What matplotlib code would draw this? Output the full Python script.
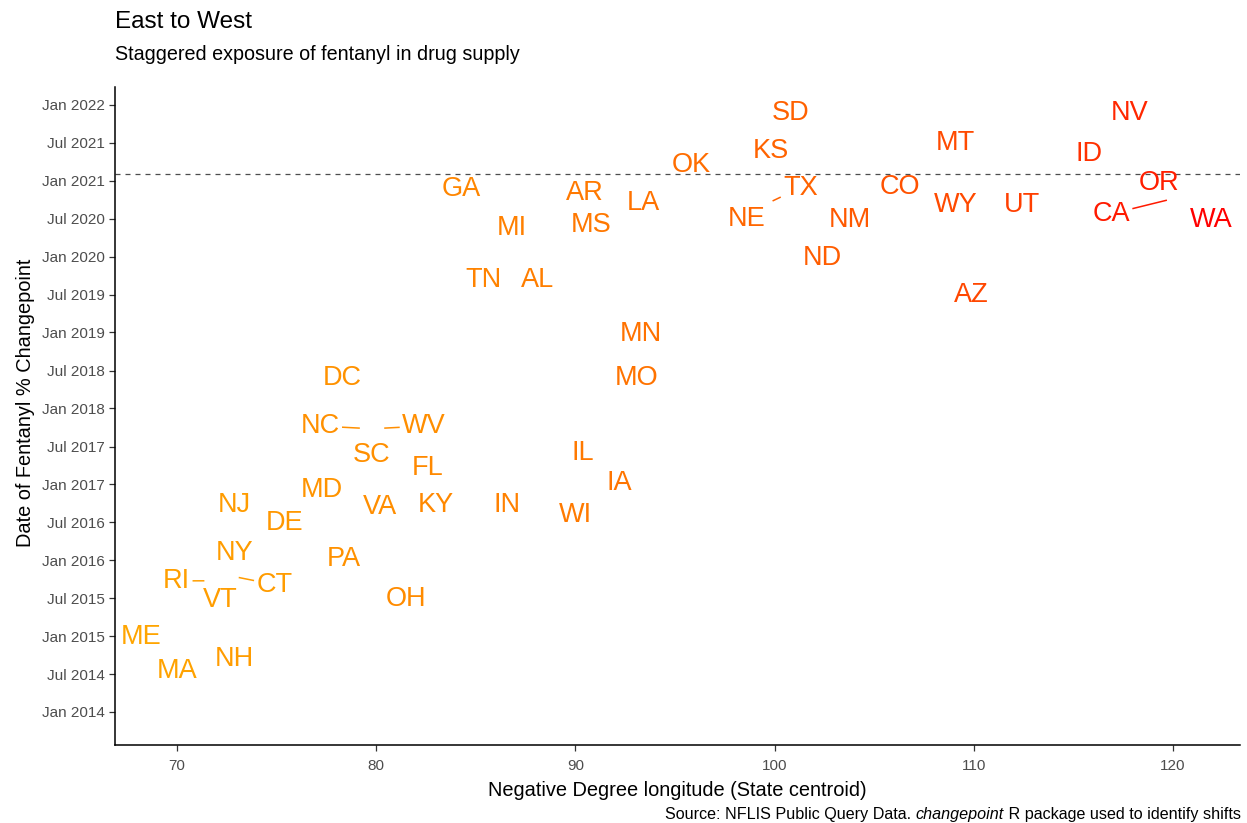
import numpy as np
import matplotlib
matplotlib.use("Agg")
import matplotlib.pyplot as plt
import matplotlib.dates as mdates
from datetime import datetime

plt.rcParams['font.family'] = ['Liberation Sans', 'DejaVu Sans']

# ---- data ----
states = ["ME", "MA", "NH", "RI", "VT", "CT", "NY", "NJ", "DE", "PA", "OH", "MD",
          "VA", "KY", "SC", "FL", "NC", "WV", "DC", "IN", "WI", "IL", "IA", "MO",
          "MN", "TN", "AL", "MI", "GA", "AR", "MS", "LA", "OK", "KS", "SD", "TX",
          "NE", "NM", "ND", "CO", "MT", "WY", "AZ", "UT", "ID", "NV", "OR", "CA", "WA"]
longitude = [68.2, 70.0, 72.9, 71.5, 72.2, 73.0, 72.9, 72.9, 75.4, 78.4, 81.5, 77.3,
             80.2, 83.0, 79.8, 82.6, 79.3, 80.3, 78.3, 86.6, 90.0, 90.4, 92.2, 93.1,
             93.3, 85.4, 88.1, 86.8, 84.3, 90.5, 90.8, 93.4, 95.8, 99.8, 100.8, 99.8,
             98.6, 103.8, 102.4, 106.3, 109.1, 109.1, 109.9, 112.4, 115.8, 117.8, 119.3, 119.8, 121.9]
changepoint = ["2015-01-12", "2014-07-31", "2014-09-27", "2015-09-24", "2015-07-09",
               "2015-10-12", "2016-02-21", "2016-10-05", "2016-07-13", "2016-01-23",
               "2015-07-13", "2016-12-20", "2016-09-27", "2016-10-08", "2017-06-03",
               "2017-04-05", "2017-09-27", "2017-09-27", "2018-06-10", "2016-10-08",
               "2016-08-22", "2017-06-14", "2017-01-23", "2018-06-10", "2019-01-08",
               "2019-09-24", "2019-09-24", "2020-05-30", "2020-12-05", "2020-11-17",
               "2020-06-14", "2020-09-27", "2021-03-29", "2021-06-06", "2021-12-05",
               "2020-09-20", "2020-07-16", "2020-07-09", "2020-01-08", "2020-12-16",
               "2021-07-13", "2020-09-20", "2019-07-16", "2020-09-20", "2021-05-23",
               "2021-12-05", "2021-01-05", "2020-10-01", "2020-07-09"]
# labels moved away from their points (repelled labels)
repel_states = ["RI", "CT", "NC", "WV", "TX", "CA"]
repel_lon = [70.0, 74.9, 77.2, 82.4, 101.3, 116.9]
repel_date = ["2015-10-08", "2015-09-20", "2017-10-22", "2017-10-22", "2020-12-12", "2020-08-08"]

threshold_date = "2021-02-01"

title = "East to West"
subtitle = "Staggered exposure of fentanyl in drug supply"
xlabel = "Negative Degree longitude (State centroid)"
ylabel = "Date of Fentanyl % Changepoint"

# ---- colour gradient (orange -> red, Lab interpolation) ----
def srgb_to_lab(rgb):
    rgb = np.asarray(rgb, float)
    lin = np.where(rgb <= 0.04045, rgb / 12.92, ((rgb + 0.055) / 1.055) ** 2.4)
    M = np.array([[0.4124, 0.3576, 0.1805], [0.2126, 0.7152, 0.0722], [0.0193, 0.1192, 0.9505]])
    xyz = M @ lin
    wp = np.array([0.95047, 1.0, 1.08883])
    t = xyz / wp
    f = np.where(t > 0.008856, np.cbrt(t), 7.787 * t + 16 / 116)
    return np.array([116 * f[1] - 16, 500 * (f[0] - f[1]), 200 * (f[1] - f[2])])

def lab_to_srgb(lab):
    L, a, b = lab
    fy = (L + 16) / 116
    fx = fy + a / 500
    fz = fy - b / 200
    f = np.array([fx, fy, fz])
    t = np.where(f ** 3 > 0.008856, f ** 3, (f - 16 / 116) / 7.787)
    xyz = t * np.array([0.95047, 1.0, 1.08883])
    Minv = np.array([[3.2406, -1.5372, -0.4986], [-0.9689, 1.8758, 0.0415], [0.0557, -0.2040, 1.0570]])
    lin = Minv @ xyz
    rgb = np.where(lin <= 0.0031308, 12.92 * lin, 1.055 * np.clip(lin, 0, None) ** (1 / 2.4) - 0.055)
    return np.clip(rgb, 0, 1)

low = srgb_to_lab([1.0, 165 / 255, 0.0])
high = srgb_to_lab([1.0, 0.0, 0.0])
lon_arr = np.array(longitude)
tnorm = (lon_arr - lon_arr.min()) / (lon_arr.max() - lon_arr.min())
colors = [lab_to_srgb(low + (high - low) * t) for t in tnorm]

# ---- figure ----
fig = plt.figure(figsize=(12.47, 8.23), dpi=100)
ax = fig.add_axes([0.0922, 0.0948, 0.9022, 0.7995])

dates = [datetime.strptime(d, "%Y-%m-%d") for d in changepoint]
repel_map = {s: (lo, datetime.strptime(d, "%Y-%m-%d")) for s, lo, d in zip(repel_states, repel_lon, repel_date)}

ax.axhline(datetime.strptime(threshold_date, "%Y-%m-%d"), color="#4D4D4D", lw=0.9,
           ls=(0, (4, 4)), zorder=1)

texts = {}
for s, lo, d, c in zip(states, longitude, dates, colors):
    if s in repel_map:
        lx, ly = repel_map[s]
    else:
        lx, ly = lo, d
    texts[s] = ax.text(lx, ly, s, color=c, fontsize=19.5, ha="center", va="center_baseline",
                       zorder=3)

ax.set_xlim(66.9, 123.36)
ax.set_ylim(datetime(2013, 7, 26), datetime(2022, 3, 27))
ax.set_xticks([70, 80, 90, 100, 110, 120])
ax.yaxis.set_major_locator(mdates.MonthLocator(bymonth=[1, 7]))
ax.yaxis.set_major_formatter(mdates.DateFormatter("%b %Y"))

for sp in ["top", "right"]:
    ax.spines[sp].set_visible(False)
for sp in ["left", "bottom"]:
    ax.spines[sp].set_linewidth(1.1)
    ax.spines[sp].set_color("black")
ax.tick_params(axis="both", direction="out", length=4, width=0.9, color="#333333",
               labelcolor="#4D4D4D", labelsize=11)
ax.tick_params(axis="x", pad=6)
ax.set_xlabel(xlabel, fontsize=14.4, labelpad=6)
ax.set_ylabel(ylabel, fontsize=14.4)
ax.yaxis.set_label_coords(-0.071, 0.52)

fig.text(115 / 1247, 1 - 22 / 823, title, fontsize=17.5, ha="left", va="center")
fig.text(115 / 1247, 1 - 55 / 823, subtitle, fontsize=14.2, ha="left", va="center")

# ---- repel segments ----
fig.canvas.draw()
renderer = fig.canvas.get_renderer()
for s, lo, d, c in zip(states, longitude, dates, colors):
    if s not in repel_map:
        continue
    bb = texts[s].get_window_extent(renderer)
    px, py = ax.transData.transform((lo, mdates.date2num(d)))
    cx, cy = (bb.x0 + bb.x1) / 2, (bb.y0 + bb.y1) / 2
    dx, dy = px - cx, py - cy
    hw, hh = bb.width / 2 + 3, bb.height / 2 + 1
    tx = hw / abs(dx) if dx != 0 else np.inf
    ty = hh / abs(dy) if dy != 0 else np.inf
    t0 = min(tx, ty)
    sx, sy = cx + dx * t0, cy + dy * t0
    L = np.hypot(px - sx, py - sy)
    ex, ey = px - (px - sx) / L * 3, py - (py - sy) / L * 3
    inv = fig.transFigure.inverted()
    (fx0, fy0), (fx1, fy1) = inv.transform([(sx, sy), (ex, ey)])
    fig.add_artist(plt.Line2D([fx0, fx1], [fy0, fy1], color=c, lw=1.1))

# ---- caption with italic word ----
parts = [("Source: NFLIS Public Query Data. ", "normal"), ("changepoint", "italic"),
         (" R package used to identify shifts", "normal")]
objs = []
for txt, style in parts:
    objs.append(fig.text(0, 1 - 815 / 823, txt, fontsize=11.6, style=style, ha="left", va="center"))
fig.canvas.draw()
widths = [o.get_window_extent(renderer).width for o in objs]
xcur = 1241 - sum(widths)
for o, w in zip(objs, widths):
    o.set_x(xcur / 1247)
    xcur += w

fig.savefig("out.png", dpi=100)
